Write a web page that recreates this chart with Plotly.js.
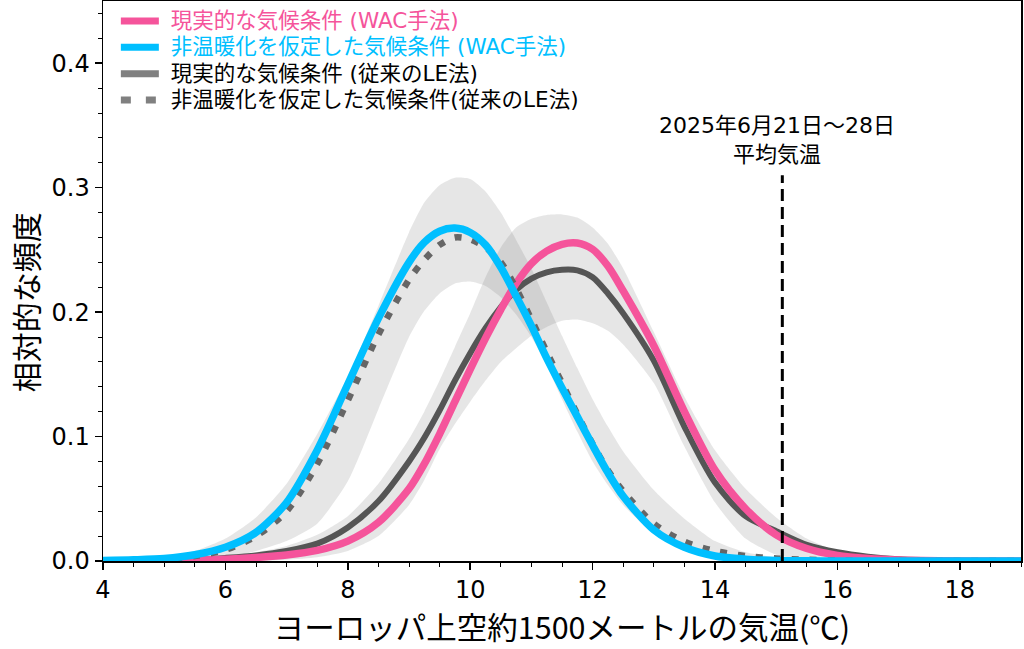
<!DOCTYPE html>
<html>
<head>
<meta charset="utf-8">
<script src="https://cdn.plot.ly/plotly-3.0.1.min.js"></script>
<style>
  html, body { margin: 0; padding: 0; background: #ffffff; }
  #chart { width: 1024px; height: 649px; }
</style>
</head>
<body>
<div id="chart"></div>
<script>
// ---- data ----
const temps = [4, 4.5, 5, 5.5, 6, 6.5, 7, 7.5, 8, 8.5, 9, 9.25, 9.5, 9.75, 10, 10.25, 10.5, 10.75, 11, 11.25, 11.5, 11.75, 12, 12.25, 12.5, 13, 13.5, 14, 14.5, 15, 15.5, 16, 16.5, 17, 18, 19];

// realistic climate (WAC method)
const actualWAC = [0, 0, 0.0002, 0.0006, 0.0014, 0.0028, 0.0048, 0.0085, 0.016, 0.031, 0.058, 0.078, 0.102, 0.128, 0.154, 0.179, 0.202, 0.223, 0.239, 0.249, 0.2545, 0.2555, 0.2505, 0.237, 0.217, 0.173, 0.120, 0.073, 0.042, 0.021, 0.010, 0.0045, 0.002, 0.0008, 0.0001, 0];
// non-warming climate (WAC method)
const natWAC = [0.0005, 0.001, 0.002, 0.005, 0.011, 0.023, 0.047, 0.089, 0.142, 0.195, 0.240, 0.256, 0.265, 0.2675, 0.264, 0.254, 0.236, 0.213, 0.189, 0.163, 0.139, 0.116, 0.093, 0.071, 0.052, 0.025, 0.011, 0.004, 0.0015, 0.0005, 0.0002, 0, 0, 0, 0, 0];
// realistic climate (conventional LE)
const actualLE = [0, 0.0002, 0.0005, 0.001, 0.0025, 0.0045, 0.008, 0.014, 0.027, 0.048, 0.080, 0.099, 0.121, 0.145, 0.167, 0.187, 0.204, 0.218, 0.227, 0.232, 0.234, 0.2335, 0.228, 0.215, 0.199, 0.161, 0.108, 0.063, 0.036, 0.024, 0.013, 0.007, 0.0035, 0.0015, 0.0003, 0];
// non-warming climate (conventional LE)
const natLE = [0.0003, 0.0007, 0.0015, 0.004, 0.009, 0.020, 0.040, 0.078, 0.129, 0.182, 0.226, 0.242, 0.254, 0.260, 0.2585, 0.252, 0.240, 0.219, 0.194, 0.168, 0.143, 0.118, 0.094, 0.073, 0.056, 0.030, 0.0155, 0.008, 0.004, 0.002, 0.001, 0.0003, 0, 0, 0, 0];

// LE spread (shaded ranges)
const natLEUpper = [0.001, 0.002, 0.004, 0.008, 0.018, 0.035, 0.062, 0.102, 0.148, 0.205, 0.264, 0.288, 0.302, 0.308, 0.307, 0.297, 0.280, 0.258, 0.235, 0.208, 0.181, 0.155, 0.130, 0.108, 0.088, 0.057, 0.034, 0.016, 0.007, 0.003, 0.001, 0.0005, 0, 0, 0, 0];
const natLELower = [0, 0, 0, 0, 0.002, 0.008, 0.016, 0.030, 0.064, 0.122, 0.180, 0.201, 0.215, 0.223, 0.2245, 0.221, 0.212, 0.198, 0.180, 0.157, 0.130, 0.104, 0.080, 0.061, 0.045, 0.022, 0.010, 0.004, 0.0015, 0.0005, 0, 0, 0, 0, 0, 0];
const actLEUpper = [0, 0.0005, 0.001, 0.002, 0.004, 0.007, 0.012, 0.021, 0.036, 0.062, 0.098, 0.120, 0.145, 0.172, 0.199, 0.228, 0.252, 0.268, 0.275, 0.278, 0.2785, 0.276, 0.268, 0.255, 0.235, 0.184, 0.132, 0.089, 0.058, 0.035, 0.018, 0.008, 0.004, 0.002, 0.0005, 0];
const actLELower = [0, 0, 0, 0, 0, 0, 0.001, 0.003, 0.008, 0.020, 0.045, 0.065, 0.090, 0.110, 0.128, 0.145, 0.160, 0.171, 0.181, 0.188, 0.193, 0.194, 0.191, 0.185, 0.174, 0.143, 0.092, 0.047, 0.018, 0.005, 0.001, 0, 0, 0, 0, 0];

const observedTemp = 15.1;      // 2025-06-21..28 mean temperature
const observedLineTop = 0.31;

const seriesNames = [
  '現実的な気候条件 (WAC手法)',
  '非温暖化を仮定した気候条件 (WAC手法)',
  '現実的な気候条件 (従来のLE法)',
  '非温暖化を仮定した気候条件(従来のLE法)'
];
const xTitle = 'ヨーロッパ上空約1500メートルの気温(℃)';
const yTitle = '相対的な頻度';
const annotText = '2025年6月21日～28日<br>平均気温';

// ---- styles ----
const PINK = '#F5549B';
const BLUE = '#00BFFF';
const DARK = '#555555';
const DOT = '#666666';
const LEGGRAY = '#808080';
const BAND = 'rgba(120,120,120,0.19)';
const CJK = '"Noto Sans CJK JP", "Noto Sans", sans-serif';
const MIXED = '"DejaVu Sans", "Noto Sans CJK JP", sans-serif';

function band(upper, lower) {
  return {
    x: temps.concat(temps.slice().reverse()),
    y: upper.concat(lower.slice().reverse()),
    type: 'scatter', mode: 'lines', fill: 'toself', fillcolor: BAND,
    line: {width: 0, shape: 'spline', smoothing: 0.6}, hoverinfo: 'skip', showlegend: false
  };
}
function curve(y, color, width, dash) {
  return {
    x: temps, y: y, type: 'scatter', mode: 'lines',
    line: {color: color, width: width, dash: dash || 'solid', shape: 'spline', smoothing: 0.8},
    showlegend: false
  };
}
function legendLabel(text, color) {
  const col = color ? 'color:' + color + ';' : '';
  return '<span style="' + col + 'font-size:21.5px">\u00A0' + text + '</span>';
}
function legendEntry(name, color, width, dash, rank) {
  return {
    x: [null], y: [null], type: 'scatter', mode: 'lines', name: name,
    line: {color: color, width: width, dash: dash || 'solid'}, legendrank: rank, showlegend: true
  };
}

const traces = [
  band(natLEUpper, natLELower),
  band(actLEUpper, actLELower),
  curve(actualLE, DARK, 6),
  curve(actualWAC, PINK, 7.5),
  curve(natLE, DOT, 6.5, '7px,11px'),
  curve(natWAC, BLUE, 7.5),
  legendEntry(legendLabel(seriesNames[0], PINK), PINK, 7, 'solid', 1),
  legendEntry(legendLabel(seriesNames[1], BLUE), BLUE, 7, 'solid', 2),
  legendEntry(legendLabel(seriesNames[2]), LEGGRAY, 7, 'solid', 3),
  legendEntry(legendLabel(seriesNames[3]), LEGGRAY, 7, '10px,15px', 4)
];

const layout = {
  width: 1024, height: 649,
  margin: {l: 103, r: 3, t: 1, b: 88},
  paper_bgcolor: '#ffffff', plot_bgcolor: '#ffffff',
  font: {family: '"DejaVu Sans", sans-serif', color: '#000000', size: 24},
  showlegend: true,
  legend: {
    x: 0.014, y: 0.997, xanchor: 'left', yanchor: 'top',
    bgcolor: 'rgba(0,0,0,0)', borderwidth: 0,
    font: {family: MIXED, size: 18, color: '#000000'},
    itemwidth: 38, tracegroupgap: 0, traceorder: 'normal'
  },
  xaxis: {
    range: [4, 19], tick0: 4, dtick: 2,
    ticks: 'outside', ticklen: 7, tickwidth: 1.5, tickcolor: '#000',
    showline: true, linewidth: 1.5, linecolor: '#000', mirror: true,
    showgrid: false, zeroline: false,
    tickfont: {size: 24},
    minor: {dtick: 0.5, ticks: 'outside', ticklen: 4, tickwidth: 1, tickcolor: '#000', showgrid: false},
    title: {text: xTitle, font: {family: CJK, size: 30.5}, standoff: 10}
  },
  yaxis: {
    range: [0, 0.45], tick0: 0, dtick: 0.1, tickformat: '.1f',
    ticks: 'outside', ticklen: 7, tickwidth: 1.5, tickcolor: '#000',
    showline: true, linewidth: 1.5, linecolor: '#000', mirror: true,
    showgrid: false, zeroline: false,
    tickfont: {size: 24},
    minor: {dtick: 0.02, ticks: 'outside', ticklen: 4, tickwidth: 1, tickcolor: '#000', showgrid: false}
  },
  shapes: [{
    type: 'line', xref: 'x', yref: 'y',
    x0: observedTemp, x1: observedTemp, y0: 0, y1: observedLineTop,
    line: {color: '#000000', width: 3, dash: '12px,6px'}, layer: 'above'
  }],
  annotations: [{
    xref: 'x', yref: 'y', x: observedTemp, y: observedLineTop,
    xanchor: 'center', yanchor: 'bottom', xshift: -5, yshift: 6,
    text: annotText, showarrow: false, align: 'center',
    font: {family: MIXED, size: 22, color: '#000000'}
  }, {
    // y-axis title
    xref: 'paper', yref: 'paper', x: -0.085, y: 0.462,
    xanchor: 'center', yanchor: 'middle', textangle: -90,
    text: yTitle, showarrow: false,
    font: {family: CJK, size: 30, color: '#000000'}
  }]
};

Plotly.newPlot('chart', traces, layout, {staticPlot: true, displayModeBar: false});
</script>
</body>
</html>
